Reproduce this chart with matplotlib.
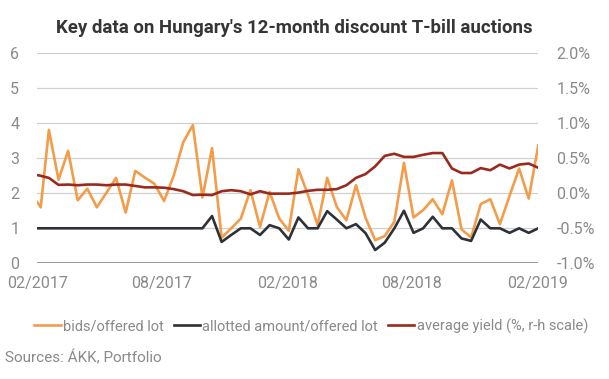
import matplotlib
matplotlib.use("Agg")
import matplotlib.pyplot as plt
import matplotlib.dates as mdates
import pandas as pd

plt.rcParams["font.family"] = ["Roboto", "DejaVu Sans"]

# auction dates (x categories)
auction_dates = [
    "2017-02-01", "2017-02-06", "2017-02-18", "2017-03-04", "2017-03-18", "2017-04-01",
    "2017-04-15", "2017-04-29", "2017-05-13", "2017-05-27", "2017-06-10", "2017-06-24",
    "2017-07-08", "2017-07-22", "2017-08-05", "2017-08-19", "2017-09-02", "2017-09-16",
    "2017-09-30", "2017-10-14", "2017-10-28", "2017-11-11", "2017-11-25", "2017-12-09",
    "2017-12-23", "2018-01-06", "2018-01-20", "2018-02-03", "2018-02-17", "2018-03-03",
    "2018-03-17", "2018-03-31", "2018-04-14", "2018-04-28", "2018-05-12", "2018-05-26",
    "2018-06-09", "2018-06-23", "2018-07-07", "2018-07-21", "2018-08-04", "2018-08-18",
    "2018-09-01", "2018-09-15", "2018-09-29", "2018-10-13", "2018-10-27", "2018-11-10",
    "2018-11-24", "2018-12-08", "2018-12-22", "2019-01-05", "2019-01-19", "2019-02-02",
]

bids_offered = [
    1.75, 1.60, 3.81, 2.39, 3.21, 1.80, 2.13, 1.60, 2.02, 2.44, 1.45, 2.64,
    2.45, 2.27, 1.78, 2.50, 3.46, 3.95, 1.88, 3.29, 0.73, 1.00, 1.28, 2.09,
    1.04, 2.04, 1.28, 0.93, 2.69, 1.95, 1.09, 2.44, 1.61, 1.23, 2.23, 1.30,
    0.66, 0.78, 1.19, 2.87, 1.31, 1.52, 1.83, 1.40, 2.37, 0.97, 0.74, 1.69,
    1.83, 1.12, 1.92, 2.71, 1.85, 3.37,
]

allotted_offered = [
    1.00, 1.00, 1.00, 1.00, 1.00, 1.00, 1.00, 1.00, 1.00, 1.00, 1.00, 1.00,
    1.00, 1.00, 1.00, 1.00, 1.00, 1.00, 1.00, 1.35, 0.61, 0.81, 1.00, 1.00,
    0.81, 1.09, 1.00, 0.68, 1.31, 1.00, 1.00, 1.49, 1.25, 1.00, 1.12, 0.86,
    0.38, 0.59, 1.00, 1.50, 0.87, 1.00, 1.33, 1.00, 1.00, 0.71, 0.64, 1.25,
    1.00, 1.00, 0.87, 1.00, 0.87, 1.00,
]

avg_yield = [
    0.26, 0.25, 0.22, 0.12, 0.125, 0.115, 0.125, 0.125, 0.115, 0.125, 0.125, 0.105,
    0.085, 0.085, 0.08, 0.06, 0.03, -0.025, -0.02, -0.025, 0.03, 0.045, 0.03, -0.015,
    0.03, -0.005, -0.005, -0.005, 0.01, 0.035, 0.05, 0.05, 0.06, 0.115, 0.22, 0.275,
    0.385, 0.535, 0.565, 0.52, 0.52, 0.55, 0.575, 0.575, 0.355, 0.29, 0.29, 0.36,
    0.33, 0.41, 0.355, 0.41, 0.425, 0.365,
]

left_ticks = [0, 1, 2, 3, 4, 5, 6]
right_ticks = [-1.0, -0.5, 0.0, 0.5, 1.0, 1.5, 2.0]
x_tick_dates = ["2017-02-01", "2017-08-01", "2018-02-01", "2018-08-01", "2019-02-01"]

ORANGE = "#F39C4A"
DARK = "#2E3238"
RED = "#9B2A1E"
GREY = "#8A8A8A"

dates = pd.to_datetime(auction_dates)

fig = plt.figure(figsize=(6.09, 3.79), dpi=100)
ax = fig.add_axes([0.0612, 0.3053, 0.8227, 0.554])
ax2 = ax.twinx()

l1, = ax.plot(dates, bids_offered, color=ORANGE, lw=1.9, label="bids/offered lot")
l2, = ax.plot(dates, allotted_offered, color=DARK, lw=1.9, label="allotted amount/offered lot")
l3, = ax2.plot(dates, avg_yield, color=RED, lw=1.9, label="average yield (%, r-h scale)")

ax.set_xlim(dates[0], dates[-1])
ax.set_ylim(0, 6)
ax2.set_ylim(-1.0, 2.0)
ax.set_yticks(left_ticks)
ax2.set_yticks(right_ticks)
ax2.set_yticklabels([f"{v:.1f}%" for v in right_ticks])
ax.set_xticks(pd.to_datetime(x_tick_dates))
ax.xaxis.set_major_formatter(mdates.DateFormatter("%m/%Y"))

ax.grid(axis="y", color="#D0D0D0", lw=0.9)
ax.set_axisbelow(True)
for a in (ax, ax2):
    for s in ("top", "right", "left", "bottom"):
        a.spines[s].set_visible(False)
ax.axhline(0, color=GREY, lw=1.2, zorder=1)

ax.tick_params(axis="y", length=0, pad=13, labelsize=11.5, labelcolor=GREY)
ax2.tick_params(axis="y", length=0, pad=13, labelsize=11.5, labelcolor=GREY)
ax.tick_params(axis="x", length=0, pad=9, labelsize=11.5, labelcolor=GREY)

fig.text(0.484, 0.926, "Key data on Hungary's 12-month discount T-bill auctions",
         ha="center", va="center", fontsize=13.4, fontweight="bold", color="#353535")

fig.legend(handles=[l1, l2, l3], loc="center", bbox_to_anchor=(0.511, 0.14), ncol=3,
           frameon=False, fontsize=10.5, handlelength=1.8, handletextpad=0.15,
           columnspacing=0.7, labelcolor=GREY)

fig.text(5 / 609, 0.055, "Sources: ÁKK, Portfolio", ha="left", va="center",
         fontsize=11, color=GREY)

fig.savefig("out.png", dpi=100)
